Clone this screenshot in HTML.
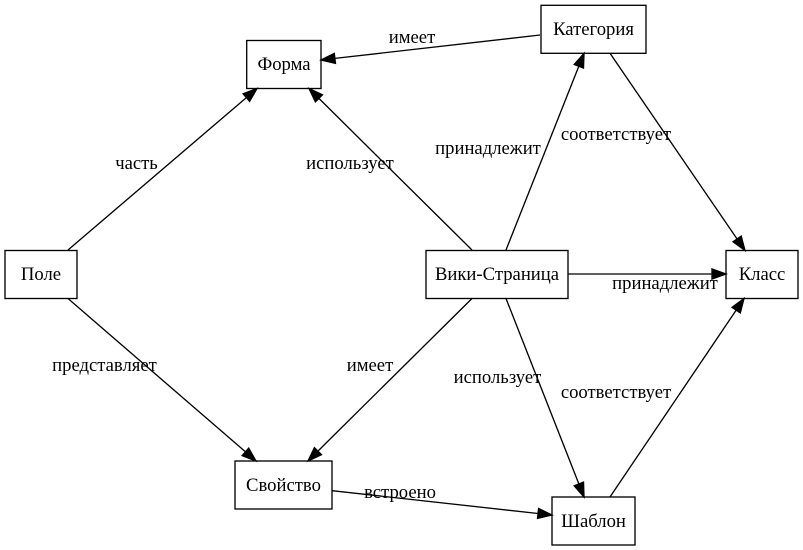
<!DOCTYPE html>
<html><head><meta charset="utf-8"><style>
html,body{margin:0;padding:0;background:#fff;}
svg{display:block;}
text{font-family:"Liberation Serif","Noto Serif CJK SC",serif;font-size:18.67px;fill:#000;}
</style></head><body>
<svg width="803" height="550" viewBox="0 0 803 550" xmlns="http://www.w3.org/2000/svg">
<rect width="803" height="550" fill="#fff"/>
<g stroke="#000" stroke-width="1.33" fill="none">
<rect x="246.7" y="40.5" width="74.3" height="48"/>
<rect x="541" y="5.3" width="105" height="48"/>
<rect x="5" y="250.5" width="72" height="48"/>
<rect x="426" y="250.5" width="142" height="48"/>
<rect x="726" y="250.5" width="72" height="48"/>
<rect x="235" y="461" width="97" height="48"/>
<rect x="552" y="497" width="83" height="48"/>
</g>
<g stroke="#000" stroke-width="1.33" fill="none">
<line x1="540" y1="35" x2="334.9" y2="58.4"/>
<line x1="68" y1="250" x2="246.4" y2="97.6"/>
<line x1="472" y1="250" x2="318.9" y2="98.4"/>
<line x1="506" y1="250" x2="578.8" y2="66.3"/>
<line x1="610" y1="53.3" x2="737.1" y2="239.0"/>
<line x1="568" y1="274" x2="712" y2="274"/>
<line x1="68" y1="298.5" x2="245.4" y2="451.8"/>
<line x1="472" y1="298.5" x2="317.9" y2="451.1"/>
<line x1="506" y1="298.5" x2="578.9" y2="484.0"/>
<line x1="610" y1="497" x2="736.2" y2="310.1"/>
<line x1="332" y1="490.7" x2="538.1" y2="513.5"/>
</g>
<g fill="#000" stroke="#000" stroke-width="1.33" stroke-linejoin="miter">
<polygon points="321,60 334.3,53.4 335.5,63.4"/>
<polygon points="257,88.5 249.6,101.4 243.1,93.8"/>
<polygon points="309,88.5 322.5,94.8 315.4,101.9"/>
<polygon points="584,53.3 583.5,68.1 574.2,64.5"/>
<polygon points="745,250.5 733.0,241.8 741.2,236.1"/>
<polygon points="726,274 712,269 712,279"/>
<polygon points="256,461 242.1,455.6 248.7,448.1"/>
<polygon points="308,461 314.4,447.6 321.5,454.7"/>
<polygon points="584,497 574.2,485.8 583.5,482.1"/>
<polygon points="744,298.5 740.3,312.9 732.0,307.3"/>
<polygon points="552,515 537.5,518.4 538.6,508.5"/>
</g>
<g text-anchor="middle">
<text x="284" y="70">Форма</text>
<text x="593.5" y="35">Категория</text>
<text x="41" y="280">Поле</text>
<text x="497" y="280">Вики-Страница</text>
<text x="762" y="280">Класс</text>
<text x="283.5" y="491">Свойство</text>
<text x="593.5" y="527">Шаблон</text>
<text x="412" y="43">имеет</text>
<text x="136.5" y="169">часть</text>
<text x="350" y="169">использует</text>
<text x="488" y="154">принадлежит</text>
<text x="616" y="140">соответствует</text>
<text x="665" y="289">принадлежит</text>
<text x="104.5" y="371">представляет</text>
<text x="370" y="371">имеет</text>
<text x="497.5" y="383">использует</text>
<text x="616" y="398">соответствует</text>
<text x="400" y="498">встроено</text>
</g>
</svg>
</body></html>
